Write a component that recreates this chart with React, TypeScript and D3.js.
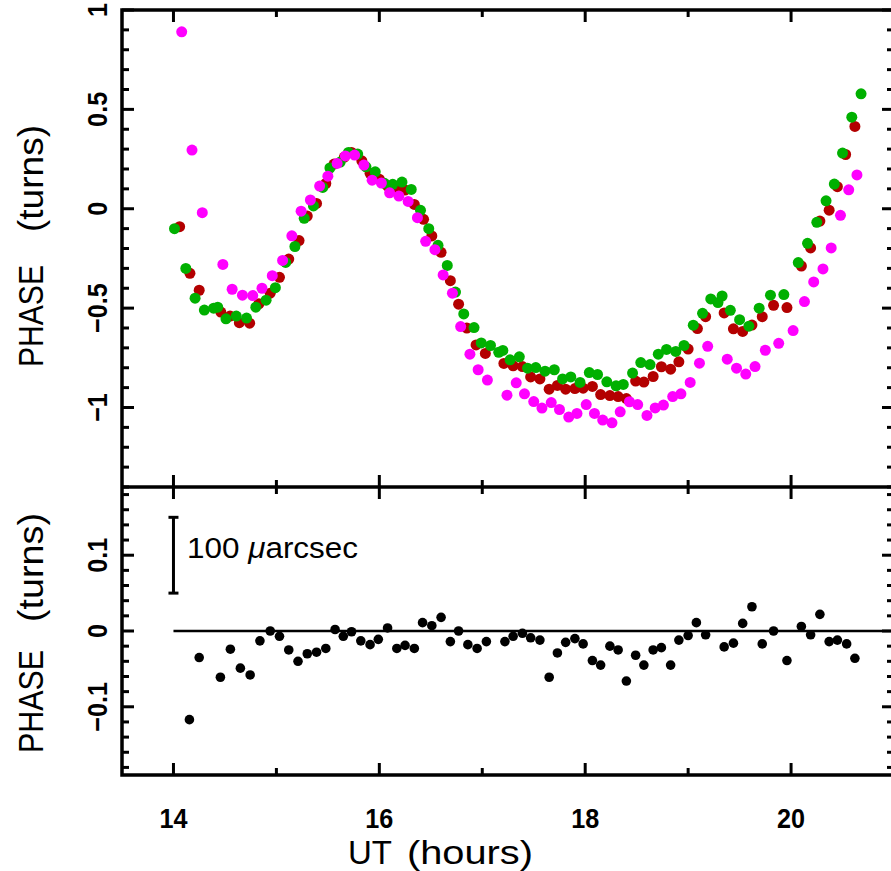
import React from 'react';
import * as d3 from 'd3';

const W = 891;
const H = 871;

// [UT hours, phase turns]
const greenPhase: [number, number][] = [
  [14.01, -0.1], [14.12, -0.3], [14.21, -0.45], [14.3, -0.51], [14.39, -0.5], [14.43, -0.495],
  [14.51, -0.554], [14.61, -0.54], [14.71, -0.55], [14.8, -0.495], [14.9, -0.46], [14.99, -0.397],
  [15.09, -0.27], [15.18, -0.19], [15.27, -0.048], [15.36, 0.014], [15.45, 0.107], [15.52, 0.205],
  [15.62, 0.235], [15.7, 0.283], [15.79, 0.275], [15.87, 0.211], [15.96, 0.186], [16.05, 0.128],
  [16.13, 0.123], [16.22, 0.134], [16.31, 0.097], [16.4, -0.008], [16.48, -0.1], [16.57, -0.184],
  [16.66, -0.285], [16.74, -0.419], [16.82, -0.529], [16.92, -0.598], [16.99, -0.675], [17.08, -0.688],
  [17.16, -0.722], [17.2, -0.713], [17.27, -0.76], [17.36, -0.745], [17.44, -0.802], [17.52, -0.799],
  [17.61, -0.817], [17.7, -0.81], [17.78, -0.856], [17.86, -0.846], [17.95, -0.874], [18.04, -0.824],
  [18.12, -0.834], [18.21, -0.871], [18.3, -0.891], [18.37, -0.884], [18.46, -0.827], [18.54, -0.774],
  [18.63, -0.784], [18.71, -0.732], [18.79, -0.708], [18.88, -0.718], [18.96, -0.688], [19.05, -0.586],
  [19.14, -0.526], [19.22, -0.454], [19.29, -0.472], [19.33, -0.439], [19.41, -0.511], [19.5, -0.558],
  [19.59, -0.591], [19.69, -0.5], [19.8, -0.435], [19.93, -0.432], [20.07, -0.271], [20.16, -0.174],
  [20.25, -0.068], [20.34, 0.04], [20.42, 0.124], [20.5, 0.28], [20.59, 0.461], [20.68, 0.578],
];

const redPhase: [number, number][] = [
  [14.06, -0.09], [14.16, -0.325], [14.25, -0.41], [14.46, -0.52], [14.55, -0.54], [14.64, -0.573],
  [14.74, -0.576], [14.83, -0.478], [14.94, -0.425], [15.03, -0.345], [15.12, -0.253], [15.22, -0.16],
  [15.3, -0.037], [15.39, 0.027], [15.48, 0.127], [15.56, 0.225], [15.66, 0.26], [15.73, 0.283],
  [15.83, 0.241], [15.91, 0.178], [16.0, 0.149], [16.08, 0.114], [16.16, 0.1], [16.25, 0.094],
  [16.34, 0.022], [16.43, -0.053], [16.51, -0.137], [16.6, -0.219], [16.69, -0.362], [16.77, -0.48],
  [16.85, -0.6], [16.94, -0.685], [17.03, -0.728], [17.21, -0.778], [17.3, -0.79], [17.39, -0.794],
  [17.47, -0.846], [17.56, -0.856], [17.65, -0.908], [17.73, -0.889], [17.81, -0.908], [17.9, -0.905],
  [17.98, -0.903], [18.07, -0.894], [18.15, -0.935], [18.24, -0.94], [18.32, -0.945], [18.4, -0.955],
  [18.49, -0.867], [18.57, -0.872], [18.66, -0.844], [18.74, -0.795], [18.83, -0.807], [18.91, -0.77],
  [19.0, -0.706], [19.09, -0.603], [19.17, -0.543], [19.35, -0.524], [19.44, -0.604], [19.53, -0.617],
  [19.62, -0.585], [19.72, -0.543], [19.83, -0.486], [19.96, -0.497], [20.1, -0.288], [20.19, -0.197],
  [20.28, -0.062], [20.37, -0.007], [20.45, 0.111], [20.53, 0.273], [20.62, 0.414],
];

const magentaPhase: [number, number][] = [
  [14.08, 0.89], [14.18, 0.295], [14.28, -0.02], [14.48, -0.28], [14.57, -0.405], [14.67, -0.435],
  [14.77, -0.437], [14.86, -0.4], [14.96, -0.337], [15.06, -0.26], [15.15, -0.136], [15.24, -0.012],
  [15.33, 0.044], [15.42, 0.114], [15.5, 0.164], [15.59, 0.228], [15.67, 0.266], [15.76, 0.27],
  [15.85, 0.22], [15.93, 0.144], [16.02, 0.129], [16.1, 0.08], [16.19, 0.064], [16.28, 0.037],
  [16.37, -0.045], [16.45, -0.164], [16.54, -0.206], [16.62, -0.333], [16.71, -0.425], [16.79, -0.593],
  [16.88, -0.732], [16.96, -0.81], [17.05, -0.862], [17.24, -0.938], [17.33, -0.876], [17.41, -0.931],
  [17.5, -0.97], [17.58, -1.003], [17.67, -0.975], [17.75, -1.01], [17.84, -1.048], [17.92, -1.03],
  [18.01, -0.985], [18.09, -1.03], [18.17, -1.063], [18.26, -1.077], [18.34, -1.022], [18.43, -0.971],
  [18.51, -0.985], [18.6, -1.04], [18.68, -1.002], [18.76, -0.988], [18.85, -0.945], [18.93, -0.931],
  [19.02, -0.874], [19.11, -0.777], [19.19, -0.692], [19.38, -0.757], [19.47, -0.802], [19.56, -0.832],
  [19.65, -0.794], [19.75, -0.712], [19.88, -0.677], [20.02, -0.613], [20.13, -0.467], [20.22, -0.368],
  [20.31, -0.303], [20.39, -0.197], [20.48, -0.033], [20.56, 0.095], [20.64, 0.17],
];

const residualPhase: [number, number][] = [
  [14.155, -0.117], [14.25, -0.035], [14.456, -0.061], [14.553, -0.024], [14.65, -0.049], [14.745, -0.058],
  [14.84, -0.013], [14.94, 0.0], [15.03, -0.007], [15.12, -0.025], [15.21, -0.04], [15.3, -0.03],
  [15.39, -0.028], [15.48, -0.023], [15.57, 0.002], [15.65, -0.007], [15.73, -0.001], [15.82, -0.013],
  [15.91, -0.018], [15.99, -0.011], [16.08, 0.004], [16.17, -0.023], [16.25, -0.019], [16.34, -0.023],
  [16.42, 0.011], [16.51, 0.007], [16.6, 0.018], [16.69, -0.014], [16.77, 0.0], [16.86, -0.018],
  [16.95, -0.023], [17.04, -0.014], [17.22, -0.014], [17.3, -0.007], [17.39, -0.003], [17.47, -0.009],
  [17.56, -0.012], [17.65, -0.061], [17.73, -0.029], [17.81, -0.015], [17.9, -0.01], [17.98, -0.017],
  [18.07, -0.039], [18.15, -0.045], [18.24, -0.02], [18.32, -0.025], [18.4, -0.066], [18.49, -0.032],
  [18.57, -0.045], [18.66, -0.025], [18.74, -0.022], [18.83, -0.045], [18.91, -0.012], [19.0, -0.006],
  [19.08, 0.011], [19.17, -0.005], [19.35, -0.021], [19.44, -0.016], [19.53, 0.01], [19.62, 0.032],
  [19.72, -0.017], [19.83, 0.0], [19.96, -0.039], [20.1, 0.006], [20.19, -0.005], [20.28, 0.022],
  [20.37, -0.014], [20.45, -0.012], [20.54, -0.017], [20.62, -0.036],
];

const xMajorTicks = [14, 16, 18, 20];
const xMinorTicks = [15, 17, 19];
const topYMajorTicks = [-1, -0.5, 0, 0.5, 1];
const bottomYMajorTicks = [-0.1, 0, 0.1];
const scaleBarTurns = [0.05, 0.15];
const scaleBarLabel = '100 ';
const scaleBarUnit = 'arcsec';

const COLORS = { red: '#b30000', green: '#00b000', magenta: '#ff00ff', black: '#000' };
const FONT = 'Liberation Sans, Arial, Helvetica, sans-serif';

const fmt = (v: number) => {
  const s = String(Math.abs(v));
  return v < 0 ? '\u2212' + s : s;
};

export default function App() {
  const L = 122, R = 894;
  const topT = 10, mid = 487, botB = 775;
  const x = d3.scaleLinear().domain([13.5, 21]).range([L, R]);
  const yTop = d3.scaleLinear().domain([-1.4, 1]).range([mid, topT]);
  const yBot = d3.scaleLinear().domain([-0.19, 0.19]).range([botB, mid]);

  const topMinor = d3.range(-14, 11).map((i) => i / 10).filter((v) => !topYMajorTicks.some((m) => Math.abs(m - v) < 1e-9));
  const botMinor = d3.range(-9, 10).map((i) => i / 50).filter((v) => !bottomYMajorTicks.some((m) => Math.abs(m - v) < 1e-9));

  const MAJ = 12, MIN = 7, SW = 3;
  const lines: JSX.Element[] = [];
  let k = 0;
  const ln = (x1: number, y1: number, x2: number, y2: number, w = SW) => {
    lines.push(<line key={'l' + k++} x1={x1} y1={y1} x2={x2} y2={y2} stroke="#000" strokeWidth={w} strokeLinecap="butt" />);
  };

  topYMajorTicks.forEach((v) => { ln(L, yTop(v), L + MAJ, yTop(v)); ln(R, yTop(v), R - MAJ, yTop(v)); });
  topMinor.forEach((v) => { ln(L, yTop(v), L + MIN, yTop(v)); ln(R, yTop(v), R - MIN, yTop(v)); });
  bottomYMajorTicks.forEach((v) => { ln(L, yBot(v), L + MAJ, yBot(v)); ln(R, yBot(v), R - MAJ, yBot(v)); });
  botMinor.forEach((v) => { ln(L, yBot(v), L + MIN, yBot(v)); ln(R, yBot(v), R - MIN, yBot(v)); });
  xMajorTicks.forEach((t) => {
    ln(x(t), topT, x(t), topT + MAJ);
    ln(x(t), mid - MAJ, x(t), mid + MAJ);
    ln(x(t), botB, x(t), botB - MAJ);
  });
  xMinorTicks.forEach((t) => {
    ln(x(t), topT, x(t), topT + MIN);
    ln(x(t), mid - MIN, x(t), mid + MIN);
    ln(x(t), botB, x(t), botB - MIN);
  });

  const tickFS = 28;
  const squish = 0.9;

  const dot = (arr: [number, number][], color: string, yS: (v: number) => number, r: number, key: string) =>
    arr.map(([t, v], i) => <circle key={key + i} cx={x(t)} cy={yS(v)} r={r} fill={color} />);

  return (
    <svg width={W} height={H} style={{ position: 'absolute', left: 0, top: 0, background: '#fff' }} fontFamily={FONT}>
      <rect x={0} y={0} width={W} height={H} fill="#fff" />
      {dot(redPhase, COLORS.red, yTop, 5.5, 'r')}
      {dot(greenPhase, COLORS.green, yTop, 5.5, 'g')}
      {dot(magentaPhase, COLORS.magenta, yTop, 5.5, 'm')}
      <line x1={x(14)} x2={x(21)} y1={yBot(0)} y2={yBot(0)} stroke="#000" strokeWidth={2.5} />
      {dot(residualPhase, COLORS.black, yBot, 4.8, 'b')}
      <line x1={x(14)} x2={x(14)} y1={yBot(scaleBarTurns[0])} y2={yBot(scaleBarTurns[1])} stroke="#000" strokeWidth={SW} />
      <line x1={x(14) - 5} x2={x(14) + 5} y1={yBot(scaleBarTurns[0])} y2={yBot(scaleBarTurns[0])} stroke="#000" strokeWidth={SW} />
      <line x1={x(14) - 5} x2={x(14) + 5} y1={yBot(scaleBarTurns[1])} y2={yBot(scaleBarTurns[1])} stroke="#000" strokeWidth={SW} />
      <text x={187} y={558} fontSize={29} textLength={171} lengthAdjust="spacingAndGlyphs">
        {scaleBarLabel}
        <tspan fontStyle="italic">{'\u03bc'}</tspan>
        {scaleBarUnit}
      </text>
      <rect x={L} y={topT} width={R - L} height={botB - topT} fill="none" stroke="#000" strokeWidth={3.5} />
      <line x1={L} x2={R} y1={mid} y2={mid} stroke="#000" strokeWidth={3.5} />
      {lines}
      {topYMajorTicks.map((v) => (
        <text key={'ty' + v} transform={`translate(107,${yTop(v)}) rotate(-90) scale(${squish},1)`} textAnchor="middle" fontSize={tickFS} fontWeight="bold">
          {fmt(v)}
        </text>
      ))}
      {bottomYMajorTicks.map((v) => (
        <text key={'by' + v} transform={`translate(107,${yBot(v)}) rotate(-90) scale(${squish},1)`} textAnchor="middle" fontSize={tickFS} fontWeight="bold">
          {fmt(v)}
        </text>
      ))}
      {xMajorTicks.map((t) => (
        <text key={'xt' + t} transform={`translate(${x(t)},828) scale(${squish},1)`} textAnchor="middle" fontSize={tickFS} fontWeight="bold">
          {fmt(t)}
        </text>
      ))}
      <text transform="translate(43,316) rotate(-90)" textAnchor="middle" fontSize={35} textLength={102} lengthAdjust="spacingAndGlyphs">PHASE</text>
      <text transform="translate(43,178.5) rotate(-90)" textAnchor="middle" fontSize={35} textLength={107} lengthAdjust="spacingAndGlyphs">(turns)</text>
      <text transform="translate(43,701.5) rotate(-90)" textAnchor="middle" fontSize={35} textLength={103} lengthAdjust="spacingAndGlyphs">PHASE</text>
      <text transform="translate(43,567.5) rotate(-90)" textAnchor="middle" fontSize={35} textLength={109} lengthAdjust="spacingAndGlyphs">(turns)</text>
      <text x={370} y={864} textAnchor="middle" fontSize={34} textLength={44} lengthAdjust="spacingAndGlyphs">UT</text>
      <text x={470} y={864} textAnchor="middle" fontSize={34} textLength={126} lengthAdjust="spacingAndGlyphs">(hours)</text>
    </svg>
  );
}
